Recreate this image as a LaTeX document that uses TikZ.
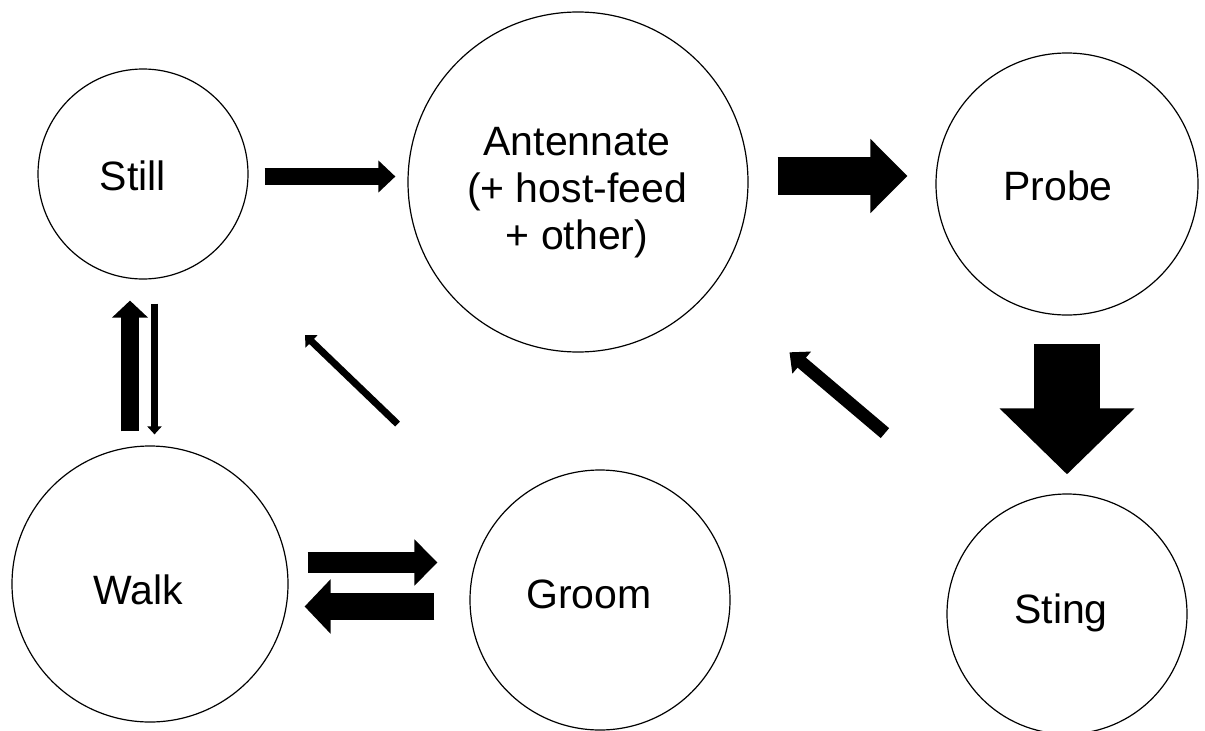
\documentclass[tikz,border=0pt]{standalone}
\usepackage{fontspec}
\setmainfont{Liberation Sans}
\usetikzlibrary{arrows.meta,positioning}

\tikzset{
    state/.style={circle,draw,line width=1.2pt,inner sep=0pt},
    statetext/.style={align=center,inner sep=0pt,font=\fontsize{41}{47}\selectfont},
    flow/.style n args={3}{line width=#1,-{Triangle[width=#2,length=#3]}}
}

\begin{document}
\begin{tikzpicture}[x=1pt,y=-1pt]
        \useasboundingbox (0,0) rectangle (1205,731);

        \node[state,minimum size=210pt] (still) at (143,174) {};
        \node[state,minimum size=340pt] (antennate) at (578,182) {};
        \node[state,minimum size=262pt] (probe) at (1067,184) {};
        \node[state,minimum size=276pt] (walk) at (150,584) {};
        \node[state,minimum size=260pt] (groom) at (600,600) {};
        \node[state,minimum size=240pt] (sting) at (1067,614) {};

        \node[statetext] (still_text) at ([xshift=-10pt,yshift=-2pt]still.center) {Still};
        \node[statetext] (antennate_text) at ([xshift=-1pt,yshift=-11pt]antennate.center) {Antennate\\(+ host-feed\\+ other)};
        \node[statetext] (probe_text) at ([xshift=-9pt,yshift=-2pt]probe.center) {Probe};
        \node[statetext] (walk_text) at ([xshift=-12pt,yshift=-6pt]walk.center) {Walk};
        \node[statetext] (groom_text) at ([xshift=-11pt,yshift=6pt]groom.center) {Groom};
        \node[statetext] (sting_text) at ([xshift=-6pt,yshift=1pt]sting.center) {Sting};

        \draw[flow={17pt}{31pt}{17pt},shorten <=16pt,shorten >=12pt]
            ([yshift=-2.5pt]still.east) -- ([yshift=5.5pt]antennate.west);
        \draw[flow={38pt}{72pt}{37pt},shorten <=29pt,shorten >=28pt]
            ([yshift=6pt]antennate.east) -- ([yshift=8pt]probe.west);
        \draw[flow={66pt}{131pt}{66pt},shorten <=28pt,shorten >=19pt]
            (probe.south) -- (sting.north);
        \draw[flow={13pt}{28pt}{16pt},shorten <=137pt,shorten >=101pt]
            (sting.130) -- (antennate.-38.5);
        \draw[flow={7pt}{17pt}{9pt},shorten <=138pt,shorten >=123pt]
            (groom.142) -- (still.-46.5);

        \draw[flow={18pt}{35pt}{17pt},shorten <=14pt,shorten >=21pt]
            ([xshift=-20pt]walk.north) -- ([xshift=-13pt]still.south);
        \draw[flow={7pt}{14pt}{8pt},shorten <=24pt,shorten >=11pt]
            ([xshift=11.5pt]still.south) -- ([xshift=4.5pt]walk.north);

        \draw[flow={21pt}{45pt}{23pt},shorten <=19pt,shorten >=32pt]
            ([yshift=21.5pt]walk.east) -- ([yshift=37.5pt]groom.west);
        \draw[flow={27pt}{53pt}{26pt},shorten <=35pt,shorten >=16pt]
            ([yshift=-6.5pt]groom.west) -- ([yshift=-22.5pt]walk.east);
\end{tikzpicture}
\end{document}
